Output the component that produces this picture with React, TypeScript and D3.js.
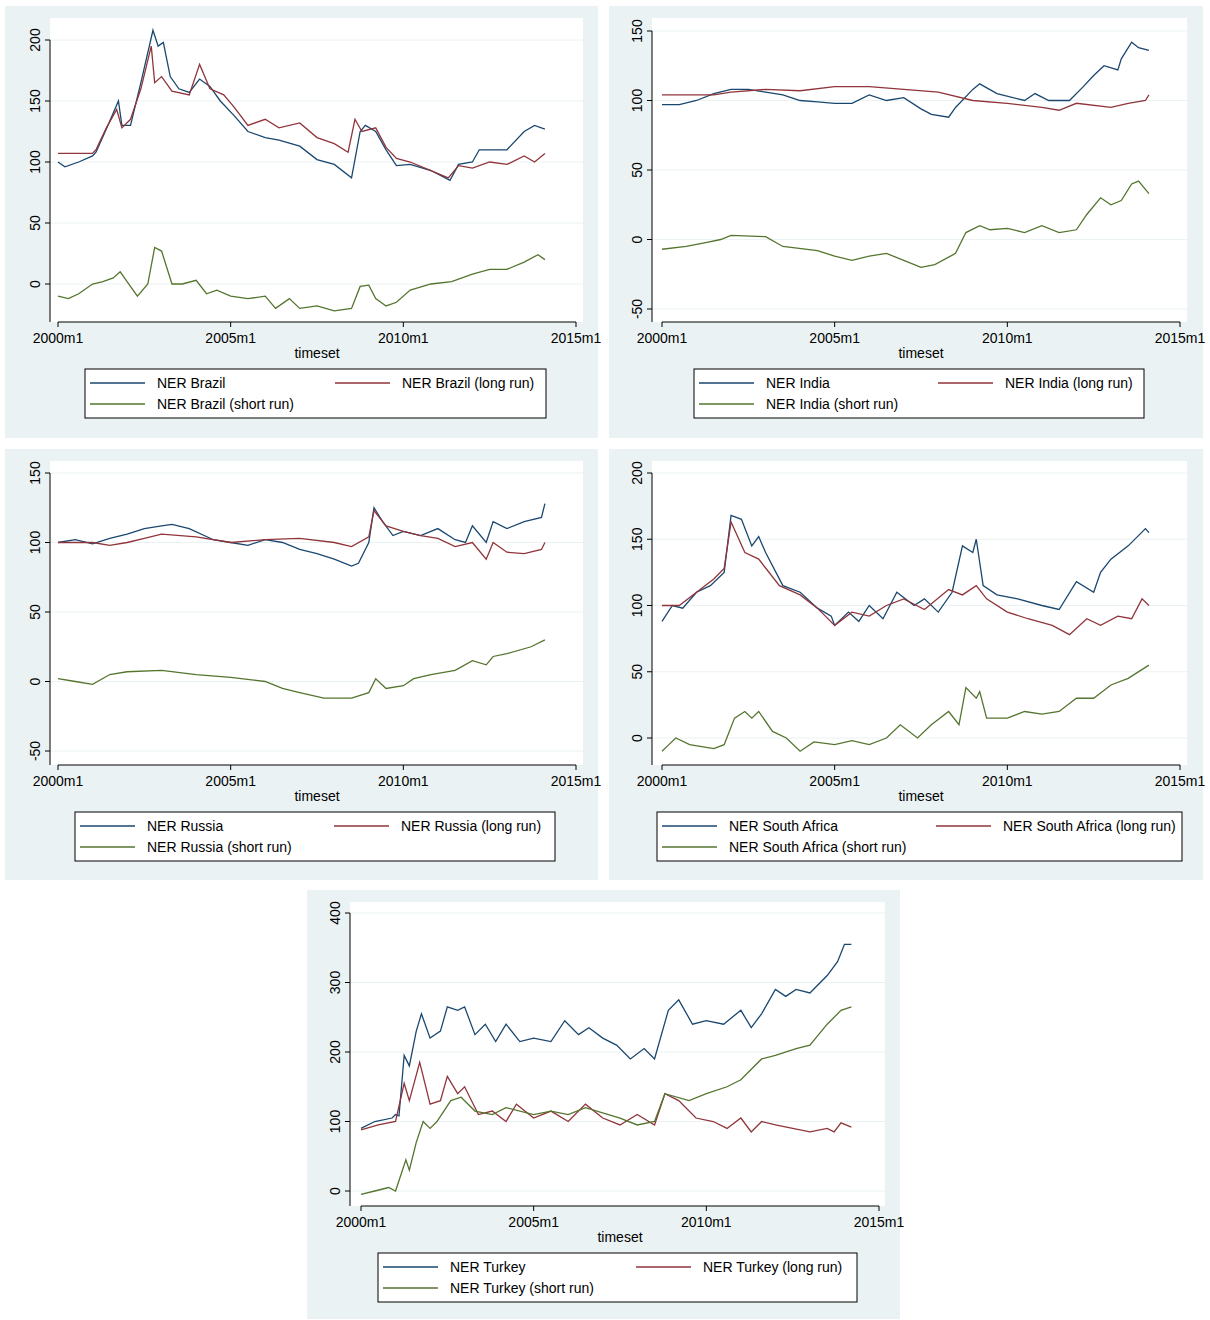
import React from "react";
import * as d3 from "d3";

type P = [number, number];
const xTicks = [2000, 2005, 2010, 2015];
const xTickLabels = ["2000m1", "2005m1", "2010m1", "2015m1"];

const brazilNER: P[] = [[0,100],[0.2,96],[0.6,100],[1.0,105],[1.1,108],[1.4,127],[1.75,150],[1.85,130],[2.1,130],[2.4,165],[2.75,208],[2.9,195],[3.05,198],[3.25,170],[3.5,160],[3.8,157],[4.1,168],[4.4,162],[4.7,150],[5.1,138],[5.5,125],[6.0,120],[6.4,118],[7.0,113],[7.5,102],[8.0,98],[8.5,87],[8.75,125],[8.9,130],[9.2,125],[9.5,110],[9.8,97],[10.2,98],[10.8,93],[11.35,85],[11.6,98],[12.0,100],[12.2,110],[12.5,110],[13.0,110],[13.5,125],[13.8,130],[14.1,127]];
const brazilLR: P[] = [[0,107],[1.0,107],[1.1,110],[1.4,128],[1.7,143],[1.85,128],[2.1,135],[2.4,160],[2.7,195],[2.8,165],[3.0,170],[3.3,158],[3.8,155],[4.1,180],[4.4,160],[4.8,155],[5.1,145],[5.5,130],[6.0,135],[6.4,128],[7.0,132],[7.5,120],[8.0,115],[8.4,108],[8.6,135],[8.8,125],[9.2,128],[9.5,112],[9.8,103],[10.2,100],[10.8,93],[11.3,87],[11.6,97],[12.0,95],[12.5,100],[13.0,98],[13.5,105],[13.8,100],[14.1,107]];
const brazilSR: P[] = [[0,-10],[0.3,-12],[0.6,-8],[1.0,0],[1.3,2],[1.6,5],[1.8,10],[2.0,2],[2.3,-10],[2.6,0],[2.8,30],[3.0,27],[3.3,0],[3.6,0],[4.0,3],[4.3,-8],[4.6,-5],[5.0,-10],[5.5,-12],[6.0,-10],[6.3,-20],[6.7,-12],[7.0,-20],[7.5,-18],[8.0,-22],[8.5,-20],[8.75,-2],[9.0,-1],[9.2,-12],[9.5,-18],[9.8,-15],[10.2,-5],[10.8,0],[11.4,2],[12.0,8],[12.5,12],[13.0,12],[13.5,18],[13.9,24],[14.1,20]];

const indiaNER: P[] = [[0,97],[0.5,97],[1.0,100],[1.5,105],[2.0,108],[2.5,108],[3.0,106],[3.5,104],[4.0,100],[4.5,99],[5.0,98],[5.5,98],[6.0,104],[6.5,100],[7.0,102],[7.5,94],[7.8,90],[8.3,88],[8.5,95],[9.0,108],[9.2,112],[9.7,105],[10.5,100],[10.8,105],[11.2,100],[11.8,100],[12.2,110],[12.5,118],[12.8,125],[13.2,122],[13.3,130],[13.6,142],[13.8,138],[14.1,136]];
const indiaLR: P[] = [[0,104],[1.5,104],[2.0,106],[3.0,108],[4.0,107],[5.0,110],[6.0,110],[7.0,108],[8.0,106],[9.0,100],[10.0,98],[11.0,95],[11.5,93],[12.0,98],[13.0,95],[13.5,98],[14.0,100],[14.1,104]];
const indiaSR: P[] = [[0,-7],[0.7,-5],[1.3,-2],[1.7,0],[2.0,3],[3.0,2],[3.5,-5],[4.5,-8],[5.0,-12],[5.5,-15],[6.0,-12],[6.5,-10],[7.0,-15],[7.5,-20],[7.9,-18],[8.5,-10],[8.8,5],[9.2,10],[9.5,7],[10.0,8],[10.5,5],[11.0,10],[11.5,5],[12.0,7],[12.3,18],[12.7,30],[13.0,25],[13.3,28],[13.6,40],[13.8,42],[14.1,33]];

const russiaNER: P[] = [[0,100],[0.5,102],[1.0,99],[1.5,103],[2.0,106],[2.5,110],[3.0,112],[3.3,113],[3.8,110],[4.5,102],[5.0,100],[5.5,98],[6.0,102],[6.5,100],[7.0,95],[7.5,92],[8.0,88],[8.5,83],[8.7,85],[9.0,100],[9.15,125],[9.4,115],[9.7,105],[10.0,108],[10.5,105],[11.0,110],[11.5,102],[11.8,100],[12.0,112],[12.4,100],[12.6,115],[13.0,110],[13.5,115],[14.0,118],[14.1,128]];
const russiaLR: P[] = [[0,100],[1.0,100],[1.5,98],[2.0,100],[2.5,103],[3.0,106],[4.0,104],[5.0,100],[6.0,102],[7.0,103],[8.0,100],[8.5,97],[9.0,104],[9.15,123],[9.5,112],[10.0,108],[10.5,105],[11.0,103],[11.5,97],[12.0,100],[12.4,88],[12.6,100],[13.0,93],[13.5,92],[14.0,95],[14.1,100]];
const russiaSR: P[] = [[0,2],[0.5,0],[1.0,-2],[1.5,5],[2.0,7],[3.0,8],[4.0,5],[5.0,3],[6.0,0],[6.5,-5],[7.0,-8],[7.7,-12],[8.5,-12],[9.0,-8],[9.2,2],[9.5,-5],[10.0,-3],[10.3,2],[10.8,5],[11.5,8],[12.0,15],[12.4,12],[12.6,18],[13.0,20],[13.7,25],[14.1,30]];

const saNER: P[] = [[0,88],[0.3,100],[0.6,98],[1.0,110],[1.4,115],[1.8,125],[2.0,168],[2.3,165],[2.6,145],[2.8,152],[3.0,140],[3.5,115],[4.0,110],[4.5,98],[4.9,92],[5.0,85],[5.4,95],[5.7,88],[6.0,100],[6.4,90],[6.8,110],[7.3,100],[7.6,105],[8.0,95],[8.4,110],[8.7,145],[9.0,140],[9.1,150],[9.3,115],[9.7,108],[10.3,105],[11.0,100],[11.5,97],[12.0,118],[12.5,110],[12.7,125],[13.0,135],[13.5,145],[14.0,158],[14.1,155]];
const saLR: P[] = [[0,100],[0.5,100],[1.0,110],[1.5,120],[1.8,128],[2.0,163],[2.4,140],[2.8,135],[3.4,115],[4.0,108],[4.5,98],[5.0,85],[5.5,95],[6.0,92],[6.5,100],[7.0,105],[7.6,97],[8.3,112],[8.7,108],[9.1,115],[9.4,105],[10.0,95],[10.6,90],[11.3,85],[11.8,78],[12.3,90],[12.7,85],[13.2,92],[13.6,90],[13.9,105],[14.1,100]];
const saSR: P[] = [[0,-10],[0.2,-5],[0.4,0],[0.8,-5],[1.5,-8],[1.8,-5],[2.1,15],[2.4,20],[2.6,15],[2.8,20],[3.2,5],[3.6,0],[4.0,-10],[4.4,-3],[5.0,-5],[5.5,-2],[6.0,-5],[6.5,0],[6.9,10],[7.4,0],[7.8,10],[8.3,20],[8.6,10],[8.8,38],[9.1,30],[9.2,35],[9.4,15],[10.0,15],[10.5,20],[11.0,18],[11.5,20],[12.0,30],[12.5,30],[13.0,40],[13.5,45],[14.1,55]];

const turkeyNER: P[] = [[0,90],[0.4,100],[0.9,105],[1.0,110],[1.1,108],[1.25,195],[1.4,180],[1.6,230],[1.75,255],[2.0,220],[2.3,230],[2.5,265],[2.8,260],[3.0,265],[3.3,225],[3.6,240],[3.9,215],[4.2,240],[4.6,215],[5.0,220],[5.5,215],[5.9,245],[6.3,225],[6.6,235],[7.0,220],[7.4,210],[7.8,190],[8.2,205],[8.5,190],[8.9,260],[9.2,275],[9.6,240],[10.0,245],[10.5,240],[11.0,260],[11.3,235],[11.6,255],[12.0,290],[12.3,280],[12.6,290],[13.0,285],[13.5,310],[13.8,330],[14.0,355],[14.2,355]];
const turkeyLR: P[] = [[0,88],[0.5,95],[1.0,100],[1.25,155],[1.4,130],[1.7,185],[2.0,125],[2.3,130],[2.5,165],[2.8,140],[3.0,150],[3.4,110],[3.8,115],[4.2,100],[4.5,125],[5.0,105],[5.5,115],[6.0,100],[6.5,125],[7.0,105],[7.5,95],[8.0,110],[8.5,95],[8.8,140],[9.2,130],[9.7,105],[10.2,100],[10.6,90],[11.0,105],[11.3,85],[11.6,100],[12.0,95],[12.5,90],[13.0,85],[13.5,90],[13.7,85],[13.9,98],[14.2,92]];
const turkeySR: P[] = [[0,-5],[0.4,0],[0.8,5],[1.0,0],[1.3,45],[1.4,30],[1.6,70],[1.8,100],[2.0,90],[2.2,100],[2.6,130],[2.9,135],[3.3,115],[3.8,110],[4.2,120],[5.0,110],[5.5,115],[6.0,110],[6.5,120],[7.5,105],[8.0,95],[8.5,100],[8.8,140],[9.5,130],[10.0,140],[10.6,150],[11.0,160],[11.6,190],[12.0,195],[12.6,205],[13.0,210],[13.5,240],[13.9,260],[14.2,265]];

const countries = ["Brazil", "India", "Russia", "South Africa", "Turkey"];
const yTicksList = [[0, 50, 100, 150, 200], [-50, 0, 50, 100, 150], [-50, 0, 50, 100, 150], [0, 50, 100, 150, 200], [0, 100, 200, 300, 400]];
const seriesList = [[brazilNER, brazilLR, brazilSR], [indiaNER, indiaLR, indiaSR], [russiaNER, russiaLR, russiaSR], [saNER, saLR, saSR], [turkeyNER, turkeyLR, turkeySR]];

const COLORS = ["#1a476f", "#90353b", "#55752f"];
const BG = "#eaf2f3";
const FONT = "Liberation Sans, Arial, sans-serif";

// layout: [ox, oy, w, h, axisX, x2000, yTopPix, yBotPix, legendX, legendW, col2]
const layouts = [
  [5, 6, 593, 432, 45, 53, 34, 278, 80, 461, 245],
  [609, 6, 594, 432, 43, 53, 25, 303, 85, 450, 239],
  [5, 449, 593, 431, 45, 53, 24, 302, 70, 480, 254],
  [609, 449, 594, 431, 43, 53, 24, 289, 48, 525, 274],
  [307, 890, 593, 429, 43, 54, 23, 301, 71, 479, 253],
];

function Panel({ idx }: { idx: number }) {
  const [ox, oy, w, h, axisX, x0, yTop, yBot, lx, lw, col2] = layouts[idx];
  const ticks = yTicksList[idx];
  const x = d3.scaleLinear().domain([2000, 2015]).range([x0, x0 + 518]);
  const y = d3.scaleLinear().domain([ticks[0], ticks[ticks.length - 1]]).range([yBot, yTop]);
  const plotTop = 12, plotBot = 316, plotRight = 578;
  const line = d3.line<P>().x(d => x(2000 + d[0])).y(d => y(d[1]));
  const name = countries[idx];
  const labels = [`NER ${name}`, `NER ${name} (long run)`, `NER ${name} (short run)`];
  const ly = 363;
  return (
    <g transform={`translate(${ox},${oy})`} fontFamily={FONT}>
      <rect width={w} height={h} fill={BG} />
      <rect x={axisX} y={plotTop} width={plotRight - axisX} height={plotBot - plotTop} fill="#fff" />
      {ticks.map(t => (
        <g key={t}>
          <line x1={axisX} x2={plotRight} y1={y(t)} y2={y(t)} stroke="#eaf2f3" strokeWidth={1} />
          <line x1={axisX - 5} x2={axisX} y1={y(t)} y2={y(t)} stroke="#000" />
          <text transform={`translate(${axisX - 10},${y(t)}) rotate(-90)`} textAnchor="middle" fontSize={14}>{t}</text>
        </g>
      ))}
      <line x1={axisX} x2={axisX} y1={y(ticks[ticks.length - 1])} y2={plotBot} stroke="#000" />
      <line x1={x(2000)} x2={x(2015)} y1={plotBot} y2={plotBot} stroke="#000" />
      {xTicks.map((t, i) => (
        <g key={t}>
          <line x1={x(t)} x2={x(t)} y1={plotBot} y2={plotBot + 5} stroke="#000" />
          <text x={x(t)} y={plotBot + 21} textAnchor="middle" fontSize={14}>{xTickLabels[i]}</text>
        </g>
      ))}
      <text x={(x(2000) + x(2015)) / 2} y={plotBot + 36} textAnchor="middle" fontSize={14}>timeset</text>
      {seriesList[idx].map((s, i) => (
        <path key={i} d={line(s) || ""} fill="none" stroke={COLORS[i]} strokeWidth={1.3} />
      ))}
      <rect x={lx} y={ly} width={lw} height={49} fill="#fff" stroke="#000" />
      {labels.map((lab, i) => {
        const cx = lx + (i === 1 ? col2 : 0);
        const cy = ly + (i === 2 ? 35 : 14);
        return (
          <g key={i}>
            <line x1={cx + 5} x2={cx + 60} y1={cy} y2={cy} stroke={COLORS[i]} strokeWidth={1.3} />
            <text x={cx + 72} y={cy + 5} fontSize={14}>{lab}</text>
          </g>
        );
      })}
    </g>
  );
}

export default function App() {
  return (
    <svg width={1210} height={1320} style={{ position: "absolute", left: 0, top: 0 }}>
      <rect width={1210} height={1320} fill="#fff" />
      {layouts.map((_, i) => <Panel key={i} idx={i} />)}
    </svg>
  );
}
